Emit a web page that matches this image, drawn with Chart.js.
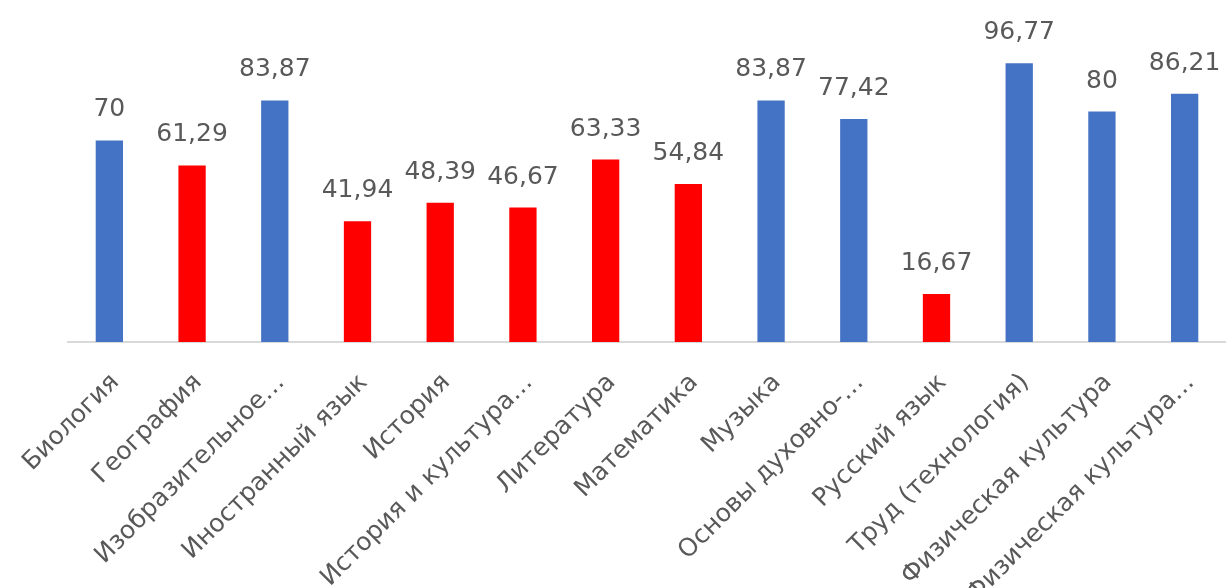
<!DOCTYPE html>
<html>
<head>
<meta charset="utf-8">
<script src="https://cdn.jsdelivr.net/npm/chart.js@4/dist/chart.umd.min.js"></script>
<style>
  html, body { margin: 0; padding: 0; background: #fff; }
  #wrap { width: 1226px; height: 588px; position: relative; }
</style>
</head>
<body>
<div id="wrap"><canvas id="c" width="1226" height="588"></canvas></div>
<script>
const categories = [
  "Биология", "География", "Изобразительное…", "Иностранный язык", "История",
  "История и культура…", "Литература", "Математика", "Музыка", "Основы духовно-…",
  "Русский язык", "Труд (технология)", "Физическая культура", "Физическая культура…"
];
const values = [70, 61.29, 83.87, 41.94, 48.39, 46.67, 63.33, 54.84, 83.87, 77.42, 16.67, 96.77, 80, 86.21];
const barColors = [
  "#4472C4", "#FF0000", "#4472C4", "#FF0000", "#FF0000",
  "#FF0000", "#FF0000", "#FF0000", "#4472C4", "#4472C4",
  "#FF0000", "#4472C4", "#4472C4", "#4472C4"
];

const FONT = "'DejaVu Sans', sans-serif";
const TEXT_COLOR = "#595959";

const valueLabels = {
  id: "valueLabels",
  afterDatasetsDraw(chart) {
    const ctx = chart.ctx;
    const meta = chart.getDatasetMeta(0);
    ctx.save();
    ctx.font = "25px " + FONT;
    ctx.fillStyle = TEXT_COLOR;
    ctx.textAlign = "center";
    ctx.textBaseline = "alphabetic";
    meta.data.forEach((bar, i) => {
      const txt = String(chart.data.datasets[0].data[i]).replace(".", ",");
      ctx.fillText(txt, bar.x, bar.y - 24);
    });
    ctx.restore();
  }
};

new Chart(document.getElementById("c"), {
  type: "bar",
  data: {
    labels: categories,
    datasets: [{
      data: values,
      backgroundColor: barColors,
      borderWidth: 0,
      barPercentage: 0.33,
      categoryPercentage: 1
    }]
  },
  options: {
    responsive: false,
    animation: false,
    devicePixelRatio: 1,
    layout: { padding: { left: 68, right: 0, top: 54, bottom: 0 } },
    plugins: { legend: { display: false }, tooltip: { enabled: false } },
    scales: {
      x: {
        grid: { display: false },
        border: { display: true, color: "#D9D9D9", width: 2 },
        ticks: {
          autoSkip: false,
          maxRotation: 45,
          minRotation: 45,
          padding: 18,
          labelOffset: 6,
          color: TEXT_COLOR,
          font: { family: FONT, size: 25 }
        },
        afterFit(scale) {
          scale.height = 246;
          scale.paddingLeft = 0;
          scale.paddingRight = 0;
        }
      },
      y: {
        display: false,
        min: 0,
        max: 100
      }
    }
  },
  plugins: [valueLabels]
});
</script>
</body>
</html>
